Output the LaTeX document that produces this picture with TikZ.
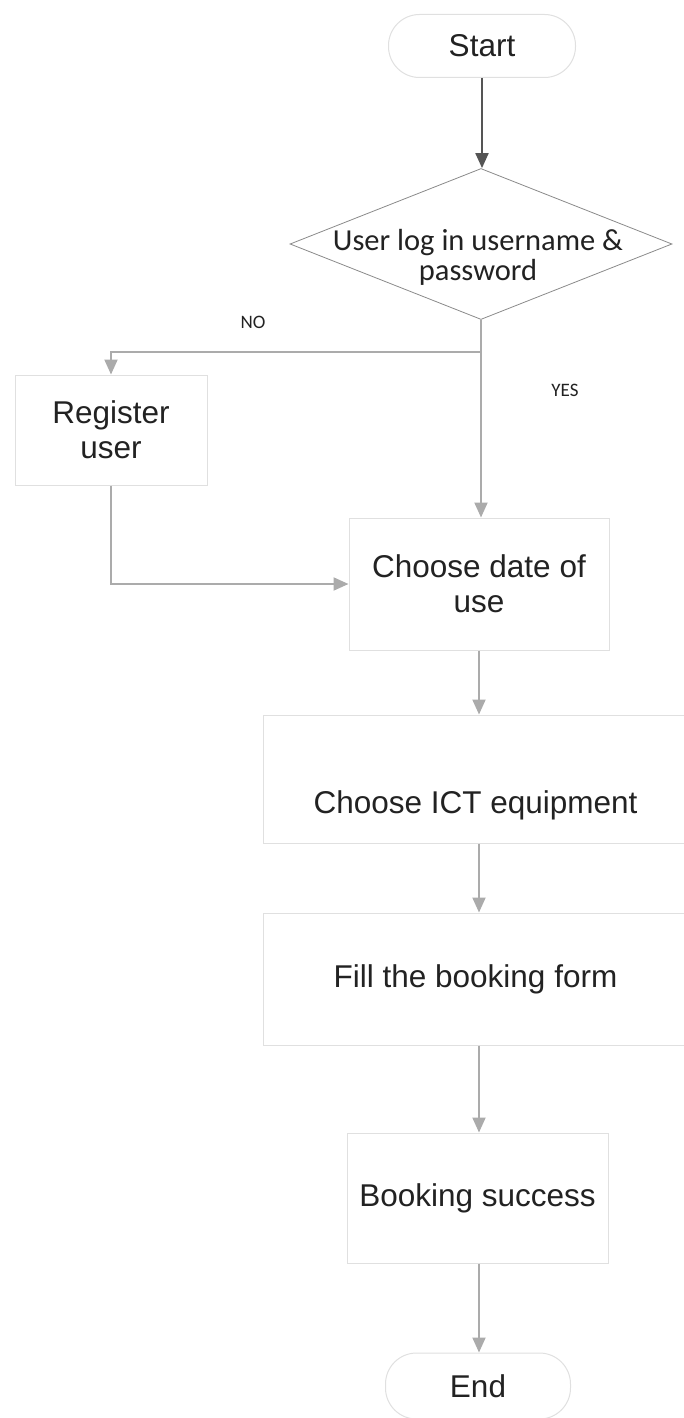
\documentclass[tikz,border=0pt]{standalone}
\usepackage{fontspec}
\setmainfont{Liberation Sans}
\newfontfamily\calib{Carlito}
\usetikzlibrary{shapes.geometric,arrows.meta}
\definecolor{boxline}{HTML}{E0E0E0}
\definecolor{diagline}{HTML}{8A8A8A}
\definecolor{flowgray}{HTML}{ABABAB}
\definecolor{darkflow}{HTML}{555555}
\definecolor{ink}{HTML}{222222}
\begin{document}
\begin{tikzpicture}[x=1pt,y=-1pt,
  box/.style={draw=boxline, line width=1pt, fill=white, inner sep=0pt, align=center,
    font=\fontsize{31.5}{35}\selectfont, text=ink},
  term/.style={box, rounded corners=31pt},
  flow/.style={draw=flowgray, line width=2pt, -{Triangle[length=15pt,width=13pt]}},
  tag/.style={font=\calib\fontsize{19}{19}\selectfont, text=ink}]
\useasboundingbox (0,0) rectangle (684,1418);

% process steps
\node[term, minimum width=187pt, minimum height=63pt] (start) at (482,46) {Start};
\node[diamond, draw=diagline, line width=0.8pt, minimum width=382pt, minimum height=151pt,
  inner sep=0pt] (login) at (481,244) {};
\node[font=\calib\fontsize{30.5}{30}\selectfont, text=ink, align=center] (logintext)
  at (478,257) {User log in username \&\\password};
\node[box, minimum width=192pt, minimum height=110pt] (reg) at (111,430) {Register\\user};
\node[box, minimum width=260pt, minimum height=132pt] (date) at (479,584) {Choose date of\\use};
\node[box, minimum width=425pt, minimum height=128pt, text height=70pt, text depth=2pt]
  (ict) at (475.5,779) {Choose ICT equipment};
\node[box, minimum width=425pt, minimum height=132pt] (fill) at (475.5,979) {Fill the booking form};
\node[box, minimum width=261pt, minimum height=130pt] (succ) at (477.5,1198) {Booking success};
\node[term, minimum width=185pt, minimum height=66pt] (end) at (478,1386) {End};

% branch labels
\node[tag] (no) at (253,322) {NO};
\node[tag] (yes) at (565,390) {YES};

% connectors
\coordinate (branch) at (481,352);
\draw[flow, draw=darkflow] (start.south) -- (start.south |- login.north);
\draw[flow] (login.south) -- (login.south |- date.north);
\draw[flow] (branch) -| (reg.north);
\draw[flow] (reg.south) |- (date.west);
\draw[flow] (date.south) -- (date.south |- ict.north);
\draw[flow] (ict.south -| date.south) -- (fill.north -| date.south);
\draw[flow] (fill.south -| date.south) -- (succ.north -| date.south);
\draw[flow] (succ.south -| date.south) -- (end.north -| date.south);
\end{tikzpicture}
\end{document}
